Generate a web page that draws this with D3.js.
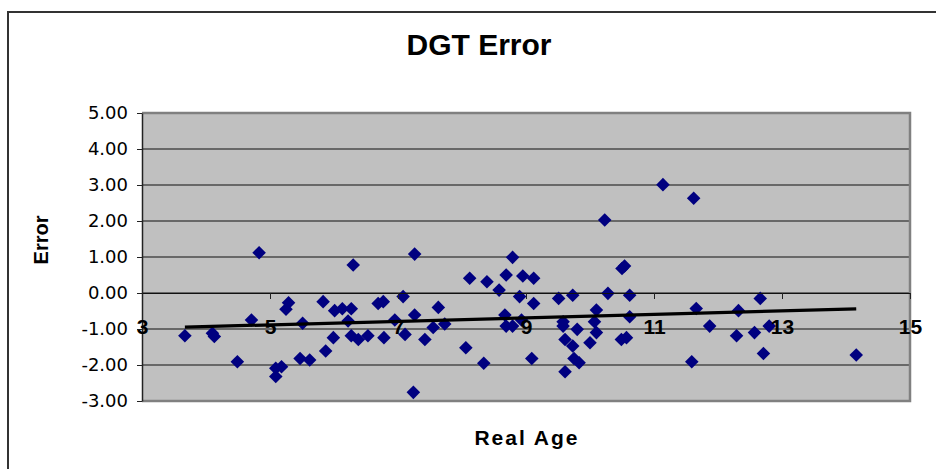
<!DOCTYPE html>
<html>
<head>
<meta charset="utf-8">
<script src="https://cdn.jsdelivr.net/npm/d3@7"></script>
<style>
  html, body { margin: 0; padding: 0; background: #fff; }
  svg { display: block; }
</style>
</head>
<body>
<div id="chart"></div>
<script>
// values
const ages = [
  4.83, 6.30, 3.67, 4.10, 4.13, 4.49, 4.71, 5.09, 5.09, 5.18,
  5.25, 5.29, 5.47, 5.51, 5.62, 5.83, 5.87, 5.99, 6.01, 6.13,
  6.27, 6.22, 6.27, 6.38, 6.53, 6.69, 6.77, 6.78, 6.95, 7.08,
  7.26, 7.24, 7.26, 7.11, 7.42, 7.55, 7.63, 7.73, 8.06, 8.12,
  8.34, 8.39, 8.58, 8.67, 8.69, 8.79, 8.69, 8.79, 8.90, 8.95,
  8.93, 9.12, 9.12, 9.09, 9.51, 9.58, 9.58, 9.73, 9.61, 9.73,
  9.61, 9.75, 9.83, 9.80, 10.00, 10.07, 10.10, 10.10, 10.28, 10.50,
  10.54, 10.62, 10.62, 10.49, 10.57, 10.23, 11.14, 11.62, 11.66, 11.87,
  11.59, 12.66, 12.32, 12.29, 12.57, 12.80, 12.71, 14.16
];
const errors = [
  1.12, 0.78, -1.19, -1.12, -1.21, -1.91, -0.75, -2.32, -2.09, -2.05,
  -0.45, -0.27, -1.82, -0.84, -1.86, -0.24, -1.61, -1.24, -0.49, -0.44,
  -0.44, -0.78, -1.19, -1.29, -1.19, -0.29, -0.24, -1.24, -0.75, -0.10,
  1.08, -2.76, -0.61, -1.15, -1.29, -0.96, -0.40, -0.86, -1.52, 0.41,
  -1.95, 0.31, 0.08, -0.61, 0.50, 0.99, -0.92, -0.92, -0.10, 0.47,
  -0.75, 0.41, -0.29, -1.82, -0.15, -0.80, -0.92, -0.06, -1.29, -1.47,
  -2.19, -1.82, -1.94, -1.01, -1.38, -0.80, -0.47, -1.10, -0.01, 0.68,
  0.75, -0.06, -0.66, -1.29, -1.24, 2.03, 3.01, 2.63, -0.43, -0.92,
  -1.91, -0.15, -0.49, -1.19, -1.10, -0.92, -1.68, -1.72
];
const xTicks = [3, 5, 7, 9, 11, 13, 15];
const yTicks = [-3, -2, -1, 0, 1, 2, 3, 4, 5];
const trendSlope = 0.0485;
const trendIntercept = -1.127;

const width = 936;
const height = 469;
const plot = {left: 142, right: 910, top: 113, bottom: 401};
const markerColor = '#000080';

const svg = d3.select('#chart').append('svg')
  .attr('width', width)
  .attr('height', height)
  .style('font-family', 'Arial, "Liberation Sans", sans-serif');

const x = d3.scaleLinear()
  .domain([d3.min(xTicks), d3.max(xTicks)])
  .range([plot.left, plot.right]);

const y = d3.scaleLinear()
  .domain([d3.min(yTicks), d3.max(yTicks)])
  .range([plot.bottom, plot.top]);

// outer chart frame (runs off the right and bottom of the picture)
svg.append('rect')
  .attr('x', 8).attr('y', 12)
  .attr('width', 1000).attr('height', 500)
  .attr('fill', '#fff')
  .attr('stroke', '#333')
  .attr('stroke-width', 2);

svg.append('text')
  .attr('x', 479).attr('y', 55)
  .attr('text-anchor', 'middle')
  .attr('font-size', 30)
  .attr('font-weight', 'bold')
  .text('DGT Error');

svg.append('rect')
  .attr('x', plot.left).attr('y', plot.top)
  .attr('width', plot.right - plot.left)
  .attr('height', plot.bottom - plot.top)
  .attr('fill', '#c0c0c0');

svg.append('g')
  .attr('stroke', '#111')
  .attr('stroke-width', 1.2)
  .selectAll('line')
  .data(yTicks)
  .join('line')
    .attr('x1', plot.left).attr('x2', plot.right)
    .attr('y1', d => y(d)).attr('y2', d => y(d));

// plot area border
svg.append('path')
  .attr('d', `M${plot.left},${plot.top}H${plot.right}V${plot.bottom}H${plot.left}`)
  .attr('fill', 'none')
  .attr('stroke', '#808080')
  .attr('stroke-width', 2.5);

const diamond = d3.symbol(d3.symbolSquare, 92);

svg.append('g')
  .attr('fill', markerColor)
  .selectAll('path')
  .data(ages.map((a, i) => [a, errors[i]]))
  .join('path')
    .attr('transform', d => `translate(${x(d[0])},${y(d[1])}) rotate(45)`)
    .attr('d', diamond);

const ageExtent = d3.extent(ages);
svg.append('line')
  .attr('x1', x(ageExtent[0]))
  .attr('y1', y(trendIntercept + trendSlope * ageExtent[0]))
  .attr('x2', x(ageExtent[1]))
  .attr('y2', y(trendIntercept + trendSlope * ageExtent[1]))
  .attr('stroke', '#000')
  .attr('stroke-width', 3.2);

const yAxis = g => g
  .attr('transform', `translate(${plot.left},0)`)
  .call(d3.axisLeft(y).tickValues(yTicks).tickFormat(d => d.toFixed(2)).tickSize(5).tickSizeOuter(0))
  .call(g => g.select('.domain').attr('stroke', '#222').attr('stroke-width', 1.5))
  .call(g => g.selectAll('.tick line').attr('stroke', '#222'))
  .call(g => g.selectAll('text')
    .attr('x', -14)
    .attr('font-family', '"DejaVu Sans", sans-serif')
    .attr('font-size', 18)
    .attr('fill', '#000'));

const xAxis = g => g
  .attr('transform', `translate(0,${y(0)})`)
  .call(d3.axisBottom(x).tickValues(xTicks).tickSize(6).tickSizeOuter(0))
  .call(g => g.select('.domain').attr('stroke', '#111'))
  .call(g => g.selectAll('.tick line').attr('stroke', '#222'))
  .call(g => g.selectAll('text')
    .attr('y', 41)
    .attr('dy', 0)
    .attr('font-family', 'Arial, "Liberation Sans", sans-serif')
    .attr('font-size', 21)
    .attr('font-weight', 'bold')
    .attr('fill', '#000'));

svg.append('g').call(yAxis);
svg.append('g').call(xAxis);

svg.append('text')
  .attr('transform', 'translate(48,240) rotate(-90)')
  .attr('text-anchor', 'middle')
  .attr('font-size', 20)
  .attr('font-weight', 'bold')
  .text('Error');

svg.append('text')
  .attr('x', 527).attr('y', 445)
  .attr('text-anchor', 'middle')
  .attr('font-size', 21)
  .attr('font-weight', 'bold')
  .attr('letter-spacing', 2)
  .text('Real Age');
</script>
</body>
</html>
